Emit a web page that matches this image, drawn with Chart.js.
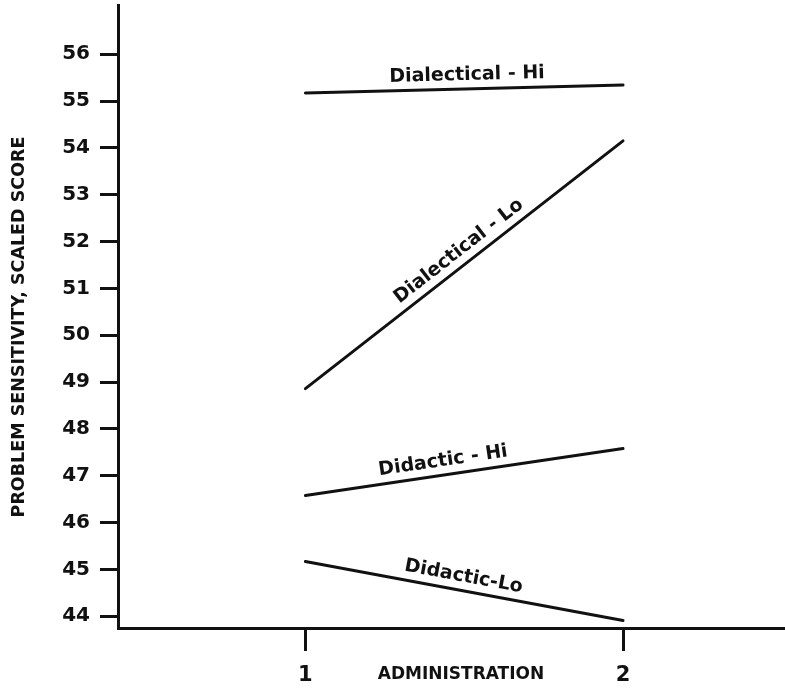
<!DOCTYPE html>
<html>
<head>
<meta charset="utf-8">
<script src="https://cdn.jsdelivr.net/npm/chart.js@4/dist/chart.umd.min.js"></script>
<style>
  html, body { margin: 0; padding: 0; background: #fff; }
  #wrap { width: 785px; height: 690px; }
</style>
</head>
<body>
<div id="wrap"><canvas id="c" width="785" height="690"></canvas></div>
<script>
// ---- data ----
const administrations = [1, 2];
const xTickLabels = ["1", "2"];
const yTicks = [44, 45, 46, 47, 48, 49, 50, 51, 52, 53, 54, 55, 56];
const seriesNames = ["Dialectical - Hi", "Dialectical - Lo", "Didactic - Hi", "Didactic-Lo"];
const dialecticalHi = [55.17, 55.34];
const dialecticalLo = [48.86, 54.15];
const didacticHi = [46.58, 47.58];
const didacticLo = [45.17, 43.91];
const xTitle = "ADMINISTRATION";
const yTitle = "PROBLEM SENSITIVITY, SCALED SCORE";

const seriesValues = [dialecticalHi, dialecticalLo, didacticHi, didacticLo];

// ---- style ----
const INK = '#111';
const labelAlong = [0.51, 0.51, 0.44, 0.49];
const labelGap = 14;

const lineLabels = {
  id: 'lineLabels',
  afterDatasetsDraw(chart) {
    const ctx = chart.ctx;
    ctx.save();
    ctx.fillStyle = INK;
    ctx.font = 'bold 19px "DejaVu Sans"';
    ctx.textAlign = 'center';
    ctx.textBaseline = 'middle';
    chart.data.datasets.forEach((ds, i) => {
      const pts = chart.getDatasetMeta(i).data;
      const p0 = pts[0], p1 = pts[1];
      const th = Math.atan2(p1.y - p0.y, p1.x - p0.x);
      const t = labelAlong[i];
      const ax = p0.x + t * (p1.x - p0.x) + Math.sin(th) * labelGap;
      const ay = p0.y + t * (p1.y - p0.y) - Math.cos(th) * labelGap;
      ctx.save();
      ctx.translate(ax, ay);
      ctx.rotate(th);
      ctx.fillText(ds.label, 0, 0);
      ctx.restore();
    });
    // axis titles
    ctx.font = 'bold 17px "DejaVu Sans"';
    ctx.fillText(xTitle, 461, 675);
    ctx.save();
    ctx.translate(19, 327);
    ctx.rotate(-Math.PI / 2);
    ctx.font = 'bold 17.5px "DejaVu Sans"';
    ctx.fillText(yTitle, 0, 0);
    ctx.restore();
    ctx.restore();
  }
};

new Chart(document.getElementById('c'), {
  type: 'line',
  data: {
    datasets: seriesNames.map((name, i) => ({
      label: name,
      data: administrations.map((a, j) => ({ x: a, y: seriesValues[i][j] })),
      borderColor: INK,
      borderWidth: 3,
      pointRadius: 0,
      borderCapStyle: 'round',
      tension: 0,
      fill: false
    }))
  },
  options: {
    responsive: false,
    animation: false,
    layout: { padding: { top: 5, right: 0, left: 0, bottom: 0 } },
    plugins: { legend: { display: false }, tooltip: { enabled: false } },
    scales: {
      x: {
        type: 'linear',
        min: 0.41,
        max: 2.51,
        afterBuildTicks: s => { s.ticks = administrations.map(v => ({ value: v })); },
        afterFit: s => { s.height = 62; s.paddingLeft = 0; s.paddingRight = 0; },
        ticks: {
          callback: (v) => xTickLabels[administrations.indexOf(v)] ?? '',
          color: INK,
          font: { family: 'DejaVu Sans', size: 21, weight: 'bold' },
          padding: 12,
          maxRotation: 0
        },
        grid: { drawOnChartArea: false, drawTicks: true, tickLength: 23, tickWidth: 3, lineWidth: 3, tickColor: INK, color: INK },
        border: { display: true, color: INK, width: 3 }
      },
      y: {
        type: 'linear',
        min: 43.75,
        max: 57.05,
        afterBuildTicks: s => { s.ticks = yTicks.map(v => ({ value: v })); },
        afterFit: s => { s.width = 118; s.paddingTop = 0; s.paddingBottom = 0; },
        ticks: {
          color: INK,
          font: { family: 'DejaVu Sans', size: 20, weight: 'bold' },
          padding: 10
        },
        title: { display: false, text: yTitle },
        grid: { drawOnChartArea: false, drawTicks: true, tickLength: 18, tickWidth: 3, lineWidth: 3, tickColor: INK, color: INK },
        border: { display: true, color: INK, width: 3 }
      }
    }
  },
  plugins: [lineLabels]
});
</script>
</body>
</html>
